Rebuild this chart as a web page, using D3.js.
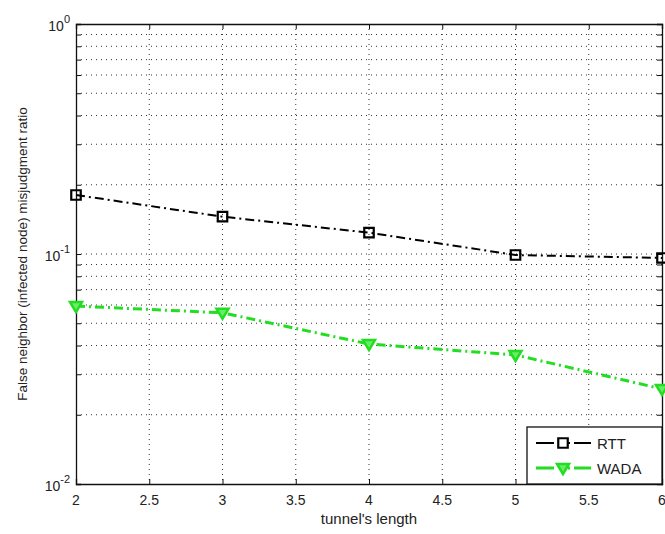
<!DOCTYPE html>
<html>
<head>
<meta charset="utf-8">
<script src="https://cdn.jsdelivr.net/npm/d3@7"></script>
<style>
  body { margin: 0; background: #fff; }
  svg text { font-family: "Liberation Sans", Arial, sans-serif; fill: #222; }
</style>
</head>
<body>
<div id="chart"></div>
<script>
// Chart data
let tunnelLength = [2, 3, 4, 5, 6];
let rttValues = [0.1805, 0.1453, 0.1238, 0.0990, 0.0961];
let wadaValues = [0.0594, 0.0555, 0.0406, 0.0364, 0.0259];
let xTicks = [2, 2.5, 3, 3.5, 4, 4.5, 5, 5.5, 6];
let yTickExps = [-2, -1, 0];
let seriesNames = ['RTT', 'WADA'];

// Sizes
let svgWidth = 665;
let svgHeight = 534;
let margins = { top: 24, bottom: 50, left: 76, right: 3 };
let chartWidth = svgWidth - margins.left - margins.right;
let chartHeight = svgHeight - margins.top - margins.bottom;

let svg = d3.select('#chart').append('svg')
    .attr('width', svgWidth)
    .attr('height', svgHeight);
let chart = svg.append('g')
    .attr('transform', `translate(${margins.left}, ${margins.top})`);

// Scales
let xScale = d3.scaleLinear().domain([2, 6]).range([0, chartWidth]);
let yScale = d3.scaleLog().domain([0.01, 1]).range([chartHeight, 0]);

// Minor log values for horizontal grid
let minorVals = [];
[0.01, 0.1].forEach(base => {
    for (let m = 1; m <= 9; m++) minorVals.push(base * m);
});
minorVals.push(1);

// Grid lines (dotted)
chart.append('g').selectAll('line.vgrid')
    .data(xTicks.slice(1, -1)).enter()
    .append('line')
    .attr('x1', d => xScale(d)).attr('x2', d => xScale(d))
    .attr('y1', 0).attr('y2', chartHeight)
    .attr('stroke', '#333').attr('stroke-width', 1)
    .attr('stroke-dasharray', '1,4');
chart.append('g').selectAll('line.hgrid')
    .data(minorVals.filter(v => v > 0.0101 && v < 0.99)).enter()
    .append('line')
    .attr('x1', 0).attr('x2', chartWidth)
    .attr('y1', d => yScale(d)).attr('y2', d => yScale(d))
    .attr('stroke', '#333').attr('stroke-width', 1)
    .attr('stroke-dasharray', '1,4');

// Axes with inward ticks
let xAxis = d3.axisBottom(xScale).tickValues(xTicks).tickSize(-5).tickFormat('');
let xAxisTop = d3.axisTop(xScale).tickValues(xTicks).tickSize(-5).tickFormat('');
let yAxis = d3.axisLeft(yScale).tickValues(minorVals)
    .tickSize(-5).tickFormat('');
let yAxisRight = d3.axisRight(yScale).tickValues(minorVals)
    .tickSize(-5).tickFormat('');

[[xAxis, `translate(0, ${chartHeight})`], [xAxisTop, 'translate(0,0)'],
 [yAxis, 'translate(0,0)'], [yAxisRight, `translate(${chartWidth},0)`]].forEach(a => {
    let g = chart.append('g').attr('transform', a[1]).call(a[0]);
    g.select('.domain').attr('stroke', '#111').attr('stroke-width', 1.3);
    g.selectAll('.tick line').attr('stroke', '#111');
});

// Tick labels
chart.append('g').selectAll('text.xlab')
    .data(xTicks).enter()
    .append('text')
    .attr('x', d => xScale(d))
    .attr('y', chartHeight + 21)
    .attr('text-anchor', 'middle')
    .style('font-size', '14px')
    .text(d => d);

let yLab = chart.append('g').selectAll('text.ylab')
    .data(yTickExps).enter()
    .append('text')
    .attr('x', -6)
    .attr('y', d => yScale(Math.pow(10, d)) + 7)
    .attr('text-anchor', 'end')
    .style('font-size', '14px');
yLab.append('tspan').text('10');
yLab.append('tspan').attr('dy', -8).style('font-size', '11px').text(d => d);

// Axis titles
chart.append('text')
    .attr('x', chartWidth / 2)
    .attr('y', chartHeight + 40)
    .attr('text-anchor', 'middle')
    .style('font-size', '15px')
    .text("tunnel's length");
chart.append('text')
    .attr('transform', `translate(${-49}, ${chartHeight / 2}) rotate(-90)`)
    .attr('text-anchor', 'middle')
    .style('font-size', '13.5px')
    .text('False neighbor (infected node) misjudgment ratio');

// Lines
let line = d3.line().x(d => xScale(d[0])).y(d => yScale(d[1]));
let rttData = tunnelLength.map((x, i) => [x, rttValues[i]]);
let wadaData = tunnelLength.map((x, i) => [x, wadaValues[i]]);
let green = '#22dd22';

chart.append('path').datum(rttData)
    .attr('d', line).attr('fill', 'none')
    .attr('stroke', '#000').attr('stroke-width', 2)
    .attr('stroke-dasharray', '9,4,2,4');
chart.append('path').datum(wadaData)
    .attr('d', line).attr('fill', 'none')
    .attr('stroke', green).attr('stroke-width', 3)
    .attr('stroke-dasharray', '9,4,2,4');

// Markers
let sq = d3.symbol().type(d3.symbolSquare).size(90);
let tri = 'M-6,-4 L6,-4 L0,6 Z';
chart.append('g').selectAll('path')
    .data(rttData).enter()
    .append('path')
    .attr('d', sq())
    .attr('transform', d => `translate(${xScale(d[0])}, ${yScale(d[1])})`)
    .attr('fill', 'none').attr('stroke', '#000').attr('stroke-width', 2.2);
chart.append('g').selectAll('path')
    .data(wadaData).enter()
    .append('path')
    .attr('d', tri)
    .attr('transform', d => `translate(${xScale(d[0])}, ${yScale(d[1])})`)
    .attr('fill', '#66ee66').attr('stroke', green).attr('stroke-width', 2.5);

// Legend
let legW = 135, legH = 57;
let legend = chart.append('g')
    .attr('transform', `translate(${chartWidth - legW}, ${chartHeight - legH})`);
legend.append('rect')
    .attr('width', legW).attr('height', legH)
    .attr('fill', '#fff').attr('stroke', '#111').attr('stroke-width', 1.3);
seriesNames.forEach((name, i) => {
    let y = 16 + i * 25;
    let col = i == 0 ? '#000' : green;
    legend.append('line')
        .attr('x1', 9).attr('x2', 64).attr('y1', y).attr('y2', y)
        .attr('stroke', col).attr('stroke-width', i == 0 ? 2 : 3)
        .attr('stroke-dasharray', '18,8,2,4,2,4');
    legend.append('path')
        .attr('d', i == 0 ? sq() : tri)
        .attr('transform', `translate(36, ${y})`)
        .attr('fill', i == 0 ? '#fff' : '#66ee66')
        .attr('stroke', col).attr('stroke-width', i == 0 ? 2.2 : 2.5);
    legend.append('text')
        .attr('x', 70).attr('y', y + 6)
        .style('font-size', '15px')
        .text(name);
});
</script>
</body>
</html>
